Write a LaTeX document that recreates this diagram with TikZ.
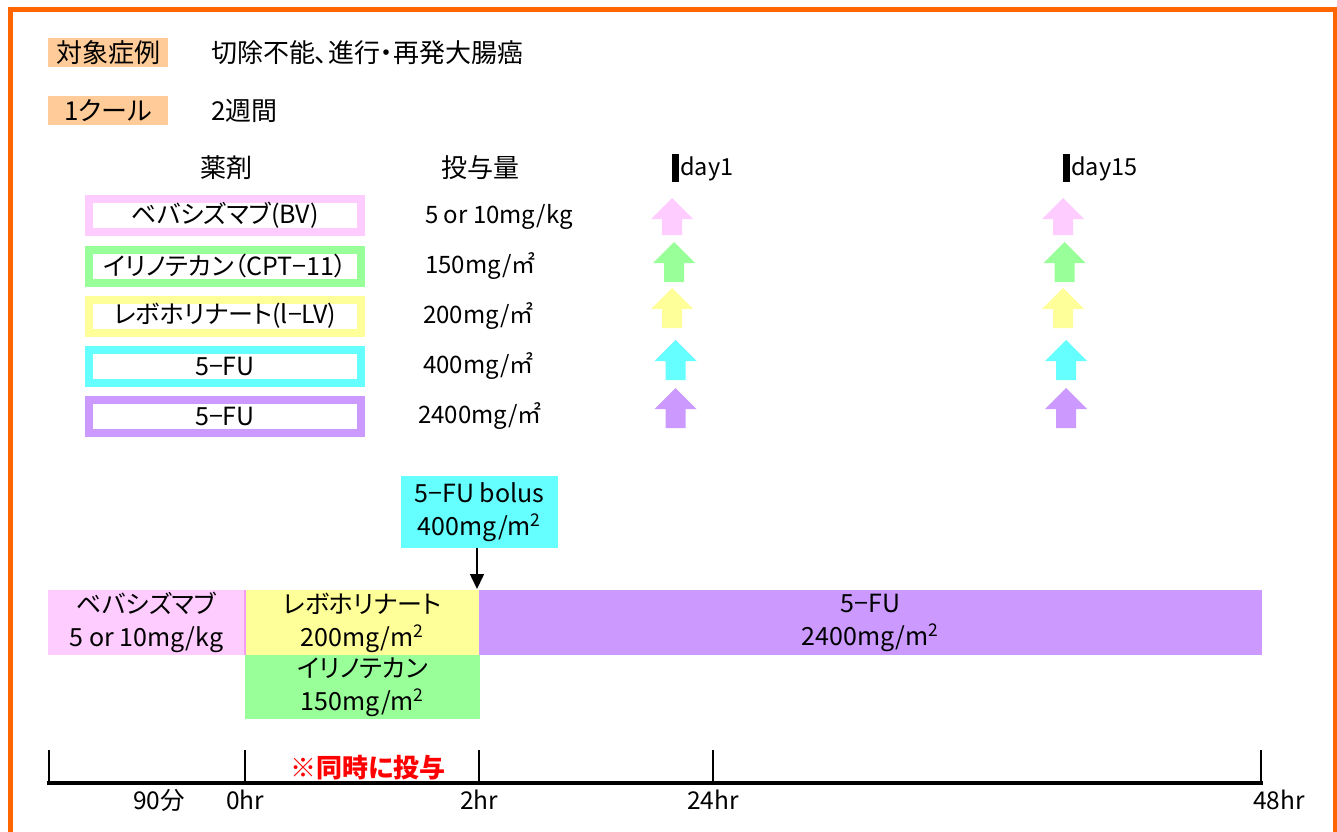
\documentclass[tikz,border=0pt]{standalone}
\usepackage{fontspec}
\setmainfont{Noto Sans CJK JP}[RawFeature=+palt]
\usetikzlibrary{arrows.meta}
\definecolor{frameor}{HTML}{FF6600}
\definecolor{hlor}{HTML}{FFCC99}
\definecolor{cpink}{HTML}{FFCCFF}
\definecolor{cgreen}{HTML}{99FF99}
\definecolor{cyellow}{HTML}{FFFF99}
\definecolor{ccyan}{HTML}{66FFFF}
\definecolor{cpurple}{HTML}{CC99FF}
\definecolor{cpinkedge}{HTML}{F59CF5}
\definecolor{redtxt}{HTML}{FF0000}
\begin{document}
\begin{tikzpicture}[x=1pt,y=-1pt,
  every node/.style={font=\fontsize{25}{29}\selectfont, inner sep=0pt},
  hdr/.style={font=\fontsize{26}{30}\selectfont},
  hl/.style={hdr, fill=hlor, minimum width=120pt, minimum height=29pt},
  drugbox/.style={draw=#1, fill=white, line width=8pt, minimum width=272pt, minimum height=33pt, font=\fontsize{25}{29}\selectfont},
  dose/.style={anchor=west, font=\fontsize{24}{28}\selectfont},
  bar/.style={fill=#1, align=center, font=\fontsize{25}{33}\selectfont},
  daybar/.style={fill=black, minimum width=7pt, minimum height=28pt},
  daytxt/.style={anchor=west, font=\fontsize{23.5}{27}\selectfont},
  uparrow/.pic={\path[pic actions] (-21,21) -- (0,0) -- (21,21) -- (10,21) -- (10,40) -- (-10,40) -- (-10,21) -- cycle;},
  uparrowshort/.pic={\path[pic actions] (-21,21) -- (0,0) -- (21,21) -- (10,21) -- (10,37) -- (-10,37) -- (-10,21) -- cycle;},
  tickline/.style={line width=2pt},
  tl/.style={font=\fontsize{24.5}{28}\selectfont}
]
\useasboundingbox (0,0) rectangle (1337,831);
\fill[white] (0,0) rectangle (1337,831);
% frame
\draw[frameor, line width=5pt] (10.5,845) -- (10.5,9.5) -- (1335,9.5) -- (1335,845);

% header
\node[hl] (tgt) at (108,52.5) {対象症例};
\node[hdr, anchor=west] (tgtv) at (211,52.5) {切除不能、進行・再発大腸癌};
\node[hl] (cyc) at (108,110.5) {1クール};
\node[hdr, anchor=west] (cycv) at (211,110.5) {2週間};

\node[hdr] (hdrug) at (226,167.5) {薬剤};
\node[hdr] (hdose) at (480,167.5) {投与量};

% drug boxes
\node[drugbox=cpink] (d1) at (225,215.5) {ベバシズマブ(BV)};
\node[drugbox=cgreen] (d2) at (225,266) {イリノテカン（CPT−11）};
\node[drugbox=cyellow] (d3) at (225,316) {レボホリナート(l−LV)};
\node[drugbox=ccyan] (d4) at (225,366) {5−FU};
\node[drugbox=cpurple] (d5) at (225,416.5) {5−FU};

% doses
\node[dose] (q1) at (425,217) {5 or 10mg/kg};
\node[dose] (q2) at (425,266) {150mg/㎡};
\node[dose] (q3) at (423,316) {200mg/㎡};
\node[dose] (q4) at (423,366) {400mg/㎡};
\node[dose] (q5) at (418,416) {2400mg/㎡};

% day markers
\node[daybar] (db1) at (675,168) {};
\node[daytxt] (dt1) at (680,169) {day1};
\node[daybar] (db15) at (1066,168) {};
\node[daytxt] (dt15) at (1071,169) {day15};

% arrows day1
\pic[fill=cpink] at (672,198) {uparrowshort};
\pic[fill=cgreen] at (674,242) {uparrow};
\pic[fill=cyellow] at (672,288) {uparrow};
\pic[fill=ccyan] at (675.5,340) {uparrow};
\pic[fill=cpurple] at (675.5,388) {uparrow};
% arrows day15
\pic[fill=cpink] at (1063,198) {uparrowshort};
\pic[fill=cgreen] at (1064.5,242) {uparrow};
\pic[fill=cyellow] at (1063,288) {uparrow};
\pic[fill=ccyan] at (1066,340) {uparrow};
\pic[fill=cpurple] at (1066,388) {uparrow};

% schedule bars
\node[bar=ccyan, minimum width=157pt, minimum height=72pt] (bolus) at (479.5,512) {5−FU bolus\\400mg/m\textsuperscript{2}};
\node[bar=cpink, minimum width=197pt, minimum height=65pt] (bv) at (146.5,622.5) {ベバシズマブ\\5 or 10mg/kg};
\node[bar=cyellow, minimum width=233pt, minimum height=65pt] (lv) at (362.5,622.5) {レボホリナート\\200mg/m\textsuperscript{2}};
\node[bar=cpurple, minimum width=783pt, minimum height=65pt] (fu) at (870.5,622.5) {5−FU\\2400mg/m\textsuperscript{2}};
\node[bar=cgreen, minimum width=235pt, minimum height=64pt] (cpt) at (362.5,687) {イリノテカン\\150mg/m\textsuperscript{2}};
\draw[cpinkedge, line width=2pt] (bv.north east) -- (bv.south east);

\coordinate (btip) at (477,589);
\draw[line width=1.5pt, -{Triangle[width=14pt,length=15pt]}] (bolus.south -| btip) -- (btip);

% timeline
\coordinate (T0) at (49,783);
\coordinate (T1) at (245,783);
\coordinate (T2) at (479,783);
\coordinate (T3) at (713,783);
\coordinate (T4) at (1261,783);
\coordinate (U0) at (49,750);
\coordinate (U1) at (245,750);
\coordinate (U2) at (479,750);
\coordinate (U3) at (713,750);
\coordinate (U4) at (1261,750);
\draw[tickline] (T0) -- (U0);
\draw[tickline] (T1) -- (U1);
\draw[tickline] (T2) -- (U2);
\draw[tickline] (T3) -- (U3);
\draw[tickline] (T4) -- (U4);
\draw[line width=3.5pt, line cap=rect] (T0) -- (T4);

\node[font=\fontsize{26}{30}\selectfont\bfseries, text=redtxt] (sim) at (368,768) {※同時に投与};
\node[tl] (l90) at (159,800) {90分};
\node[tl] (l0) at (245,800) {0hr};
\node[tl] (l2) at (479,800) {2hr};
\node[tl] (l24) at (713,800) {24hr};
\node[tl] (l48) at (1279,800) {48hr};
\end{tikzpicture}
\end{document}
